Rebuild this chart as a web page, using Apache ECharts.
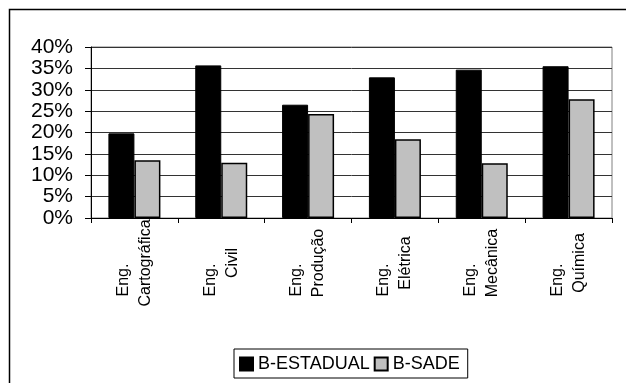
<!DOCTYPE html>
<html>
<head>
<meta charset="utf-8">
<script src="https://cdn.jsdelivr.net/npm/echarts@6/dist/echarts.min.js"></script>
<style>
  html, body { margin: 0; padding: 0; background: #fff; }
  #chart { width: 626px; height: 383px; }
</style>
</head>
<body>
<div id="chart"></div>
<script>
// Course names (two-line labels) and percentage values per source
var categories = ['Eng.\nCartográfica', 'Eng.\nCivil', 'Eng.\nProdução', 'Eng.\nElétrica', 'Eng.\nMecânica', 'Eng.\nQuímica'];
var estadual = [19.8, 35.7, 26.5, 32.9, 34.7, 35.5];
var sade = [13.5, 12.9, 24.3, 18.4, 12.8, 27.8];
var seriesNames = ['B-ESTADUAL', 'B-SADE'];
var yMin = 0, yMax = 40, yStep = 5;

var font = 'Liberation Sans, Arial, sans-serif';
var chart = echarts.init(document.getElementById('chart'), null, { renderer: 'canvas' });

// pick one line of a two-line category name
function lineOf(i) {
  return function (value) { return value.split('\n')[i]; };
}

// vertical (rotated) label for one line of the category names
function lineLabel(i, margin, vAlign) {
  return {
    rotate: 90,
    align: 'center',
    verticalAlign: vAlign,
    margin: margin,
    interval: 0,
    formatter: lineOf(i),
    fontFamily: font,
    fontSize: 16,
    lineHeight: 22,
    color: '#000'
  };
}

chart.setOption({
  backgroundColor: '#fff',
  animation: false,
  graphic: [{
    type: 'rect',
    shape: { x: 9.5, y: 9.5, width: 700, height: 500 },
    style: { fill: null, stroke: '#000', lineWidth: 1.5 },
    silent: true
  }],
  grid: {
    left: 91, right: 14, top: 47, bottom: 165,
    show: true, borderColor: '#808080', borderWidth: 1
  },
  legend: {
    left: 234, top: 349,
    padding: [6, 8, 5, 5],
    itemGap: 4,
    itemWidth: 13, itemHeight: 13,
    borderColor: '#000', borderWidth: 1,
    icon: 'rect',
    textStyle: { fontFamily: font, fontSize: 18, color: '#000' },
    data: seriesNames
  },
  xAxis: [{
    // main category axis: line, ticks and the "Eng." line
    type: 'category',
    data: categories,
    position: 'bottom',
    axisLine: { lineStyle: { color: '#000', width: 1 } },
    axisTick: { show: true, alignWithLabel: false, length: 5, lineStyle: { color: '#000' } },
    axisLabel: lineLabel(0, 62, 'bottom')
  }, {
    // companion axis carrying the course name line
    type: 'category',
    data: categories,
    position: 'bottom',
    offset: 0,
    axisLine: { show: false },
    axisTick: { show: false },
    splitLine: { show: false },
    axisLabel: lineLabel(1, 45, 'top')
  }],
  yAxis: {
    type: 'value',
    min: yMin, max: yMax, interval: yStep,
    axisLine: { show: true, lineStyle: { color: '#000', width: 1 } },
    axisTick: { show: true, length: 6, lineStyle: { color: '#000' } },
    splitLine: { lineStyle: { color: '#333', width: 1 } },
    axisLabel: {
      formatter: '{value}%',
      margin: 18,
      showMinLabel: true,
      showMaxLabel: true,
      fontFamily: font,
      fontSize: 21,
      color: '#000'
    }
  },
  series: [{
    name: seriesNames[0],
    type: 'bar',
    data: estadual,
    barWidth: 26,
    barGap: '0%',
    itemStyle: { color: '#000', borderColor: '#000', borderWidth: 1 }
  }, {
    name: seriesNames[1],
    type: 'bar',
    data: sade,
    barWidth: 26,
    barGap: '0%',
    itemStyle: { color: '#c0c0c0', borderColor: '#000', borderWidth: 1.5 }
  }]
});
</script>
</body>
</html>
